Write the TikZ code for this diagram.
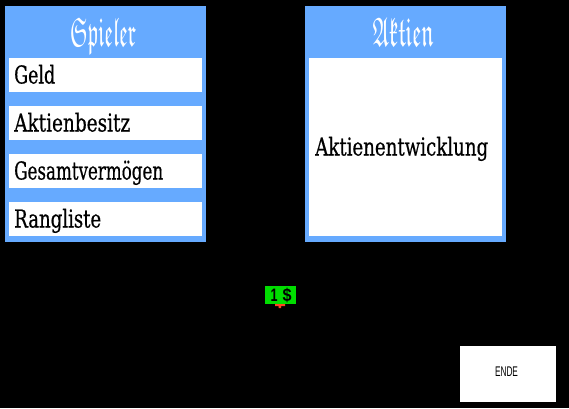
\documentclass[tikz,border=0pt]{standalone}
\usepackage{amssymb}
\usepackage{graphicx}
\usepackage{fontspec}
\setmainfont{Liberation Serif}
\newfontfamily\slabfont[FakeBold=0.6]{DejaVu Serif Condensed}
\newfontfamily\plainfont{Liberation Sans}
\definecolor{panelblue}{RGB}{102,170,255}
\definecolor{moneygreen}{RGB}{0,221,0}
\definecolor{tipred}{RGB}{255,68,34}
\newcommand{\fitw}[2]{\resizebox{#1pt}{\height}{#2}}
\tikzset{
  panel/.style={fill=panelblue,draw=none,anchor=north west,inner sep=0pt,minimum width=201pt,minimum height=236pt},
  rowbox/.style={fill=white,draw=none,anchor=north west,inner sep=0pt,minimum width=193pt},
  rowtext/.style={anchor=base west,inner sep=0pt,text=black,font=\slabfont\fontsize{17}{17}\selectfont,yscale=1.45,transform shape},
  paneltitle/.style={anchor=base,inner sep=0pt,text=white,font=\fontsize{25}{25}\selectfont,yscale=1.65,transform shape},
  moneytext/.style={anchor=base,inner sep=0pt,text=black,font=\plainfont\bfseries\fontsize{18}{18}\selectfont},
}
\begin{document}
\begin{tikzpicture}[x=1pt,y=-1pt]
\useasboundingbox (0,0) rectangle (569,408);
\fill[black] (0,0) rectangle (569,408);
\node[panel] (spieler) at (5,6) {};
\node[panel] (aktien) at (305,6) {};
\node[rowbox,minimum height=34pt] (r1) at (9,58) {};
\node[rowbox,minimum height=34pt] (r2) at (9,106) {};
\node[rowbox,minimum height=34pt] (r3) at (9,154) {};
\node[rowbox,minimum height=34pt] (r4) at (9,202) {};
\node[rowbox,minimum height=178pt] (r5) at (309,58) {};
\node[paneltitle] (t1) at (103,46) {\fitw{66}{$\mathfrak{Spieler}$}};
\node[paneltitle] (t2) at (403,46) {\fitw{61}{$\mathfrak{Aktien}$}};
\node[rowtext] (l1) at (14,83.5) {\fitw{41}{Geld}};
\node[rowtext] (l2) at (14,131.5) {\fitw{116}{Aktienbesitz}};
\node[rowtext] (l3) at (14,179.5) {\fitw{149}{Gesamtvermögen}};
\node[rowtext] (l4) at (14,227.5) {\fitw{87}{Rangliste}};
\node[rowtext] (l5) at (315,155.5) {\fitw{173}{Aktienentwicklung}};
\node[fill=moneygreen,draw=none,anchor=north west,inner sep=0pt,minimum width=31pt,minimum height=18pt] (money) at (265,286) {};
\node[moneytext] (one) at (274,301.5) {\fitw{7}{1}};
\node[moneytext] (dollar) at (287,301) {\fitw{9}{\$}};
\fill[tipred] (275,304) rectangle (285,306) (278.5,306) rectangle (281,308);
\node[fill=white,draw=none,anchor=north west,inner sep=0pt,minimum width=96pt,minimum height=56pt] (ende) at (460,346) {};
\node[anchor=base,inner sep=0pt,text=black,font=\plainfont\fontsize{10}{10}\selectfont,yscale=1.4,transform shape] (endetext) at (506.5,376) {\fitw{23}{ENDE}};
\end{tikzpicture}
\end{document}
